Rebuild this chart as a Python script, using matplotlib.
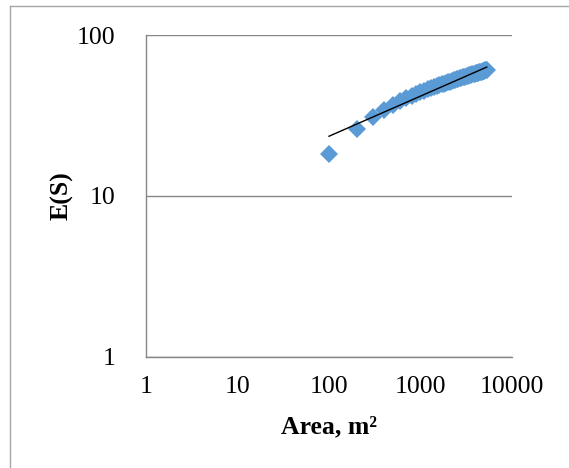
import numpy as np
import matplotlib.pyplot as plt
from matplotlib.lines import Line2D

# Sampled areas (m^2) and expected species E(S)
area = list(range(100, 5400, 100))
es = [18.2, 26.0, 31.0, 34.3, 36.8, 38.8, 40.4, 41.8, 43.0, 44.1,
      45.0, 45.9, 46.7, 47.4, 48.1, 48.7, 49.3, 49.9, 50.4, 50.9,
      51.4, 51.8, 52.3, 52.7, 53.1, 53.5, 53.8, 54.2, 54.5, 54.9,
      55.2, 55.5, 55.8, 56.1, 56.4, 56.7, 56.9, 57.2, 57.5, 57.7,
      58.0, 58.2, 58.4, 58.7, 58.9, 59.1, 59.3, 59.6, 59.8, 60.0,
      60.2, 60.4, 60.6]

x_ticks = [1, 10, 100, 1000, 10000]
y_ticks = [1, 10, 100]

plt.rcParams['font.family'] = ['Liberation Serif', 'DejaVu Serif']

fig = plt.figure(figsize=(5.69, 4.68), dpi=100)
ax = fig.add_axes([0.2566, 0.2372, 0.6432, 0.688])

# outer chart border (only top and left visible in the crop)
fig.add_artist(Line2D([10/569, 10/569], [0, 1 - 6/468], color='#a6a6a6', lw=1))
fig.add_artist(Line2D([10/569, 1], [1 - 6/468, 1 - 6/468], color='#a6a6a6', lw=1))

ax.plot(area, es, linestyle='none', marker='D', markersize=9.2,
        color='#5b9bd5', markeredgewidth=0, zorder=2)

# power trendline
a = np.array(area, dtype=float)
b, c = np.polyfit(np.log10(a), np.log10(es), 1)
ax.plot(a, 10 ** (c + b * np.log10(a)), color='black', lw=1.0, zorder=3)

ax.set_xscale('log')
ax.set_yscale('log')
ax.set_xlim(1, 10000)
ax.set_ylim(1, 100)
ax.set_xticks(x_ticks)
ax.set_xticklabels([str(t) for t in x_ticks])
ax.set_yticks(y_ticks)
ax.set_yticklabels([str(t) for t in y_ticks])
ax.minorticks_off()
ax.tick_params(length=0, labelsize=18.5, colors='black')
ax.tick_params(axis='x', pad=14)
ax.tick_params(axis='y', pad=22)

ax.grid(axis='y', color='#868686', lw=1)
for s in ['top', 'right']:
    ax.spines[s].set_visible(False)
for s in ['left', 'bottom']:
    ax.spines[s].set_color('#868686')
    ax.spines[s].set_linewidth(1)

ax.set_xlabel('Area, m²', fontsize=18.5, fontweight='bold', labelpad=12)
ax.set_ylabel('E(S)', fontsize=18.5, fontweight='bold', labelpad=2.5)

fig.savefig('out.png', dpi=100)
